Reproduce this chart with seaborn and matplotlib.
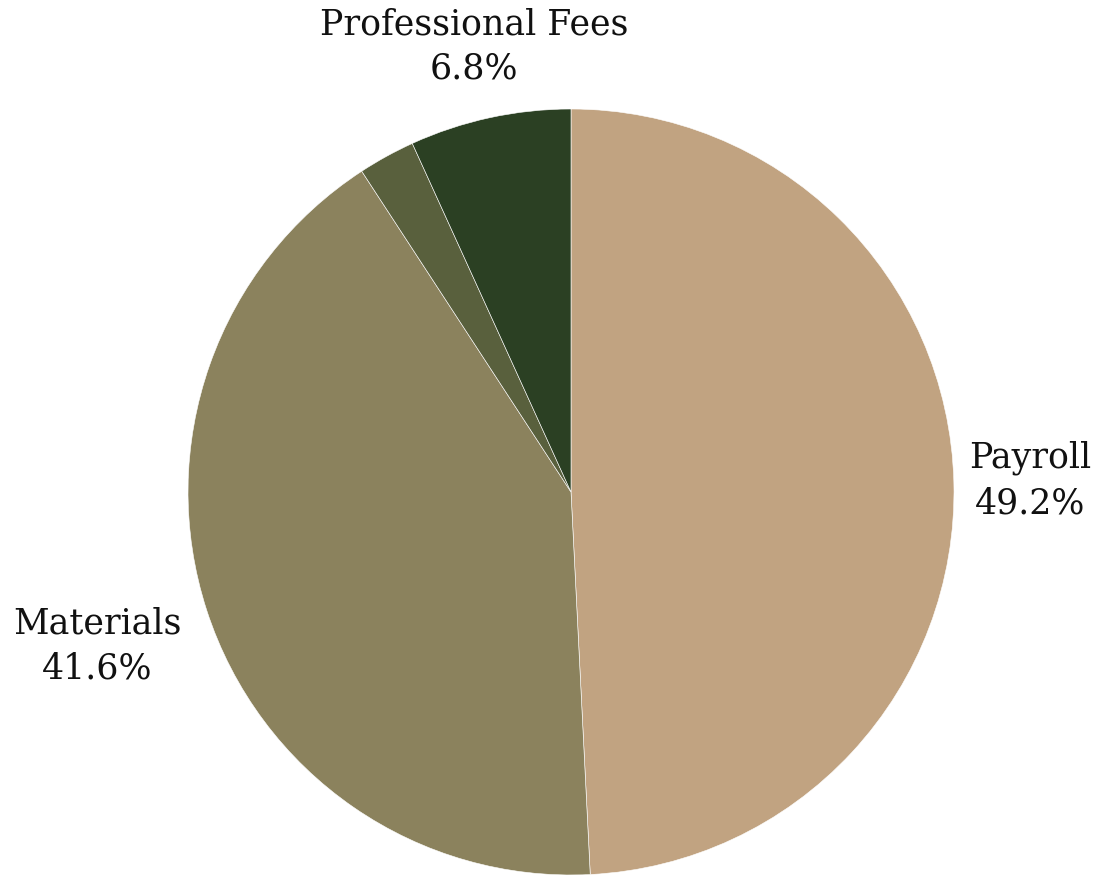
import numpy as np
import matplotlib
matplotlib.use("Agg")
import matplotlib.pyplot as plt
import seaborn as sns

categories = ["Payroll", "Materials", "Other", "Professional Fees"]
shares = [49.2, 41.6, 2.4, 6.8]
show_label = [True, True, False, True]
colors = ["#C1A381", "#8B825D", "#59603D", "#2B4023"]
label_radius = [1.20, 1.30, 1.2, 1.19]

sns.set_theme(style="white")
plt.rcParams["font.family"] = ["DejaVu Serif"]

W, H, DPI = 1117, 875, 100
fig = plt.figure(figsize=(W / DPI, H / DPI), dpi=DPI)
ax = fig.add_axes([0, 0, 1, 1])

palette = sns.color_palette(colors)
wedges, _ = ax.pie(shares, colors=palette, startangle=90, counterclock=False,
                   radius=1.0, center=(0, 0),
                   wedgeprops=dict(edgecolor="white", linewidth=0.4))

total = sum(shares)
start = 90.0
for i, (name, val) in enumerate(zip(categories, shares)):
    sweep = val / total * 360.0
    mid = np.deg2rad(start - sweep / 2)
    start -= sweep
    if not show_label[i]:
        continue
    r = label_radius[i]
    ax.text(r * np.cos(mid), r * np.sin(mid), f"{name}\n{val:.1f}%",
            ha="center", va="center", fontsize=25, color="#111111",
            linespacing=1.4)

cx, cy, R = 571, 492, 383
ax.set_xlim(-cx / R, (W - cx) / R)
ax.set_ylim(-(H - cy) / R, cy / R)
ax.set_aspect("equal")
ax.axis("off")

fig.savefig("out.png", dpi=DPI, facecolor="white")
